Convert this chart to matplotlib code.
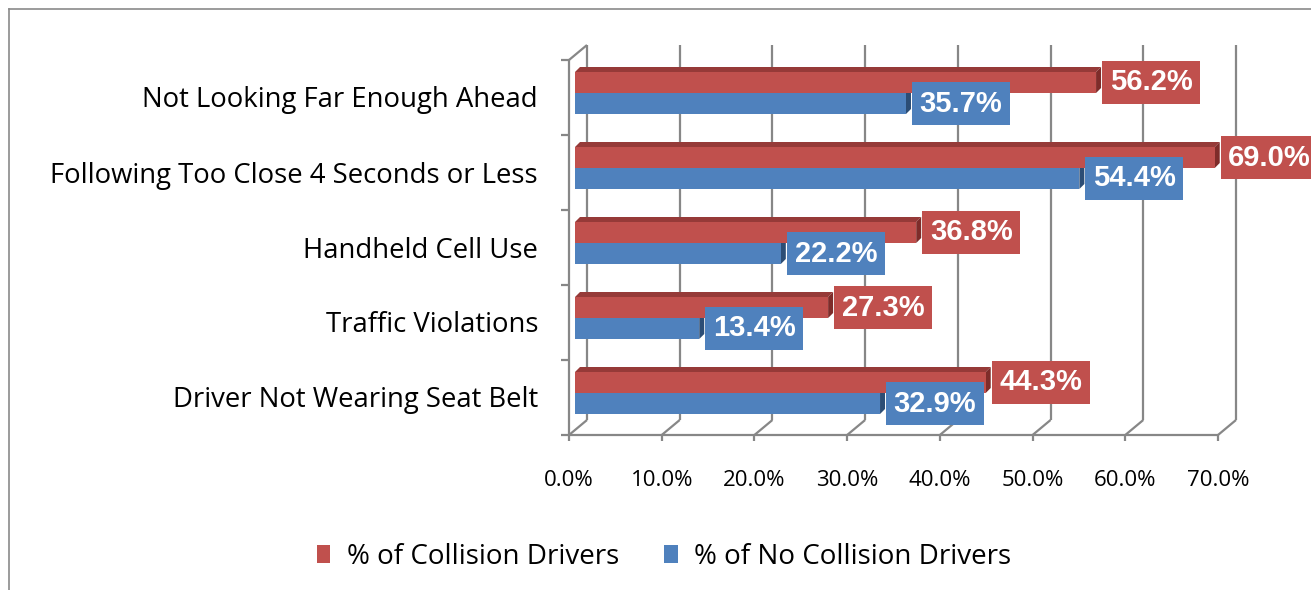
import numpy as np
import matplotlib.pyplot as plt
from matplotlib.patches import Polygon
from matplotlib.lines import Line2D

plt.rcParams['font.family'] = ['Open Sans', 'DejaVu Sans']

categories = ['Driver Not Wearing Seat Belt', 'Traffic Violations', 'Handheld Cell Use',
              'Following Too Close 4 Seconds or Less', 'Not Looking Far Enough Ahead']
collision = [44.3, 27.3, 36.8, 69.0, 56.2]      # % of Collision Drivers
no_collision = [32.9, 13.4, 22.2, 54.4, 35.7]   # % of No Collision Drivers
xticks = [0, 10, 20, 30, 40, 50, 60, 70]
series_names = ['% of Collision Drivers', '% of No Collision Drivers']

red, red_top, red_side = '#C0504D', '#963A38', '#7E2C2A'
blue, blue_top, blue_side = '#4F81BD', '#3A6496', '#2C4D75'
grid_c = '#878787'

W, H = 1311, 590
fig = plt.figure(figsize=(W / 100, H / 100), dpi=100)

# 外框
fig.add_artist(Line2D([9 / W, 9 / W], [0, 1 - 9 / H], color='#8a8a8a', lw=1.2))
fig.add_artist(Line2D([9 / W, 1], [1 - 9 / H, 1 - 9 / H], color='#8a8a8a', lw=1.2))

# 坐标区：前平面 x 0 -> 569px, 70 -> 1218px ; 类别 435px -> 60px
x0, x1, ytop, ybot = 569, 1218, 60, 435
ax = fig.add_axes([x0 / W, (H - ybot) / H, (x1 - x0) / W, (ybot - ytop) / H])
ax.set_xlim(0, 70)
ax.set_ylim(0, 5)
ax.axis('off')

px = 70 / (x1 - x0)      # 每像素对应的 x 数据量
py = 5 / (ybot - ytop)   # 每像素对应的 y 数据量
dx, dy = 18 * px, 15 * py   # 背墙偏移

kw = dict(color=grid_c, lw=1.6, clip_on=False, solid_capstyle='butt')
# 背墙网格线 + 地面斜线 + 刻度
for v in xticks:
    ax.plot([v + dx, v + dx], [dy, 5 + dy], zorder=1, **kw)
    ax.plot([v, v + dx], [0, dy], zorder=1, **kw)
    ax.plot([v, v], [0, -6 * py], zorder=1, **kw)
    ax.text(v, -45 * py, f'{v:.1f}%', ha='center', va='center', fontsize=16)
ax.plot([0, 70], [0, 0], zorder=1, **kw)
# 左侧墙
ax.plot([0, 0], [0, 5], zorder=1, **kw)
ax.plot([0, dx], [5, 5 + dy], zorder=1, **kw)
for k in range(6):
    ax.plot([-8 * px, 0], [k, k], zorder=1, **kw)

# 条形
bx = 6 * px            # 条形起点偏移
tx, ty = 5 * px, 5 * py  # 条形厚度
h = 0.28
ypos = np.arange(len(categories))


def box3d(v, y0, top_c, side_c, z):
    top = Polygon([[bx, y0 + h], [v + bx, y0 + h], [v + bx + tx, y0 + h + ty], [bx + tx, y0 + h + ty]],
                  closed=True, fc=top_c, ec='none', zorder=z, clip_on=False)
    side = Polygon([[v + bx, y0], [v + bx, y0 + h], [v + bx + tx, y0 + h + ty], [v + bx + tx, y0 + ty]],
                   closed=True, fc=side_c, ec='none', zorder=z, clip_on=False)
    ax.add_patch(top)
    ax.add_patch(side)


bars_b = ax.barh(ypos + 0.28, no_collision, height=h, left=bx, align='edge', color=blue, zorder=3)
for i, v in enumerate(no_collision):
    box3d(v, ypos[i] + 0.28, blue_top, blue_side, 2)
bars_r = ax.barh(ypos + 0.56, collision, height=h, left=bx, align='edge', color=red, zorder=5)
for i, v in enumerate(collision):
    box3d(v, ypos[i] + 0.56, red_top, red_side, 4)
for b in list(bars_b) + list(bars_r):
    b.set_clip_on(False)

# 数据标签
for i in range(len(categories)):
    for v, yc, c, z in [(no_collision[i], ypos[i] + 0.28 + h / 2, blue, 6),
                        (collision[i], ypos[i] + 0.56 + h / 2, red, 7)]:
        ax.text(v + bx + 55 * px, yc, f'{v:.1f}%', ha='center', va='center',
                family=['Liberation Sans', 'DejaVu Sans'],
                fontsize=21, fontweight='bold', color='white', zorder=z, clip_on=False,
                bbox=dict(boxstyle='square,pad=0.26', fc=c, ec='none'))

# 类别标签
for i, name in enumerate(categories):
    ax.text(-31 * px, ypos[i] + 0.5 - 3 * py, name, ha='right', va='center', fontsize=19.8)

fig.legend([bars_r, bars_b], series_names, loc='center', bbox_to_anchor=(664 / W, 1 - 557 / H),
           ncol=2, frameon=False, fontsize=20, handlelength=0.5, handleheight=0.6,
           handletextpad=0.6, columnspacing=1.6)

fig.savefig('out.png', dpi=100)
